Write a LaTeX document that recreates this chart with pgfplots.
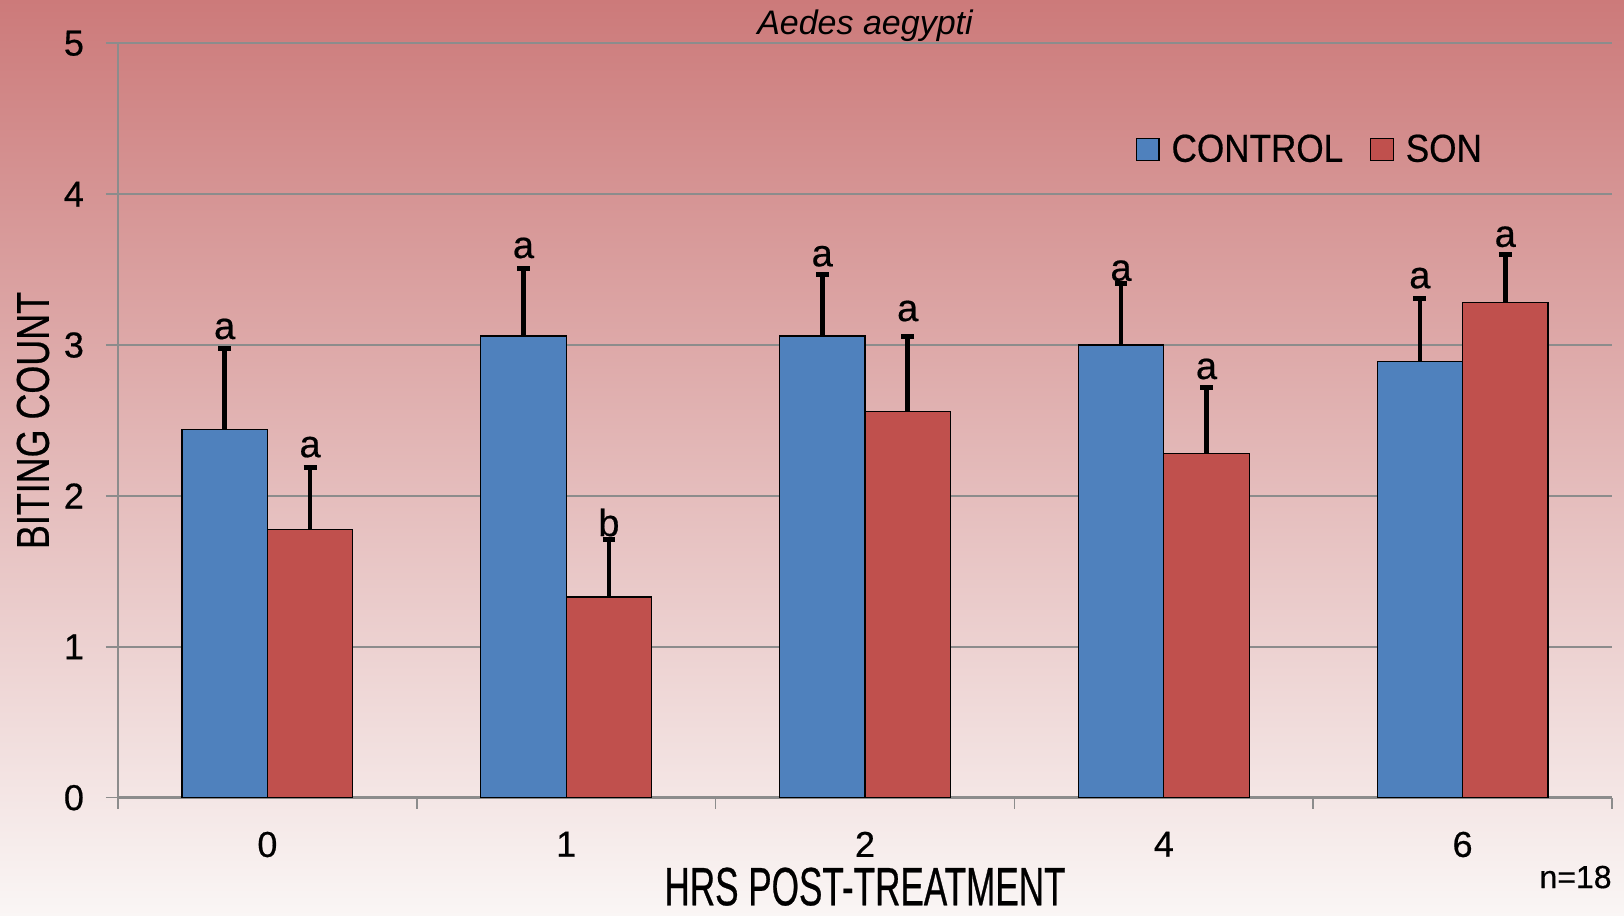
\documentclass[border=0pt]{standalone}
\usepackage{pgfplots}
\usepackage{pgfplotstable}
\pgfplotsset{compat=1.18}
\usepackage{fontspec}
\setmainfont{Liberation Sans}
\newfontfamily\medfont[FakeBold=0.5]{Liberation Sans}
\newfontfamily\xlabfont[FakeStretch=0.65,FakeBold=0.5]{Liberation Sans}
\newfontfamily\ylabfont[FakeStretch=0.78,FakeBold=0.5]{Liberation Sans}
\newfontfamily\legfont[FakeStretch=0.9,FakeBold=0.5]{Liberation Sans}
\definecolor{ctrl}{RGB}{79,129,189}
\definecolor{son}{RGB}{192,80,77}
\definecolor{bgtop}{RGB}{204,122,122}
\definecolor{bgbot}{RGB}{250,246,245}
\definecolor{gridc}{RGB}{140,140,140}

% x = category position (0..4 for 0,1,2,4,6 h) shifted to the bar centre
\pgfplotstableread{
x y e
-0.143 2.44 0.54
0.857 3.06 0.45
1.857 3.06 0.41
2.857 3.00 0.41
3.857 2.89 0.42
}\ctrldata
\pgfplotstableread{
x y e
0.143 1.78 0.41
1.143 1.33 0.38
2.143 2.56 0.50
3.143 2.28 0.44
4.143 3.28 0.32
}\sondata
\pgfplotstableread{
x y lab
-0.143 3.04 a
0.857 3.577 a
1.857 3.522 a
2.857 3.426 a
3.857 3.377 a
0.143 2.257 a
1.143 1.734 b
2.143 3.159 a
3.143 2.775 a
4.143 3.651 a
}\labdata

\begin{document}
\begin{tikzpicture}
\shade[top color=bgtop, bottom color=bgbot] (-59pt,-59.15pt) rectangle (753pt,398.85pt);
\begin{axis}[
  at={(0,0)}, anchor=south west,
  scale only axis, width=747pt, height=377.2pt,
  clip=false,
  xmin=-0.5, xmax=4.5, ymin=0, ymax=5,
  xtick={0,1,2,3,4}, xticklabels={0,1,2,4,6},
  minor xtick={-0.5,0.5,1.5,2.5,3.5,4.5},
  ytick={0,1,2,3,4,5},
  axis x line*=bottom, axis y line*=left,
  x axis line style={gridc, line width=1.3pt},
  y axis line style={gridc, line width=0.7pt},
  tick align=outside,
  major tick length=6pt,
  minor tick length=5.5pt,
  major x tick style={draw=none},
  minor x tick style={gridc, line width=0.8pt},
  major y tick style={gridc, line width=0.8pt},
  ymajorgrids, grid style={gridc, line width=0.9pt},
  tick label style={font=\medfont\fontsize{18}{20}\selectfont},
  /pgf/number format/assume math mode=true,
  xticklabel shift=7.5pt,
  yticklabel shift=7.5pt,
  xlabel={HRS POST-TREATMENT},
  xlabel style={font=\xlabfont\fontsize{27}{29}\selectfont, at={(axis description cs:0.5,-0.1246)}, anchor=center, yshift=2.5pt},
  ylabel={BITING COUNT},
  ylabel style={font=\ylabfont\fontsize{23}{25}\selectfont, at={(axis description cs:-0.0569,0.5)}, anchor=center},
  title={Aedes aegypti},
  title style={font=\fontsize{17}{19}\selectfont\itshape, at={(axis description cs:0.5,1)}, anchor=base, yshift=-1.7pt},
  legend columns=2,
  legend style={at={(0.6814,0.859)}, anchor=west, draw=none, fill=none, inner sep=0pt, outer sep=0pt,
    font=\legfont\fontsize{19.5}{22}\selectfont,
    nodes={inner sep=0pt},
    /tikz/every odd column/.append style={column sep=6pt},
    /tikz/every even column/.append style={column sep=13.5pt}},
  legend image code/.code={\draw[#1] (0pt,-5.6pt) rectangle (11.2pt,5.6pt);},
]
\addplot[ybar, bar width=0.286, bar shift=0, fill=ctrl, draw=black, line width=0.6pt,
  error bars/.cd, y dir=plus, y explicit, error mark=|,
  error bar style={line width=2.3pt, black},
  error mark options={line width=2.5pt, mark size=3.2pt, black}]
  table[x=x, y=y, y error=e] {\ctrldata};
\addlegendentry{CONTROL}
\addplot[ybar, bar width=0.286, bar shift=0, fill=son, draw=black, line width=0.6pt,
  error bars/.cd, y dir=plus, y explicit, error mark=|,
  error bar style={line width=2.3pt, black},
  error mark options={line width=2.5pt, mark size=3.2pt, black}]
  table[x=x, y=y, y error=e] {\sondata};
\addlegendentry{SON}
\addplot[only marks, mark=none, forget plot, nodes near coords, point meta=explicit symbolic,
  every node near coord/.append style={anchor=base, inner sep=0pt, yshift=0pt, font=\medfont\fontsize{19}{21}\selectfont, black}]
  table[x=x, y=y, meta=lab] {\labdata};
\node[anchor=base east, font=\medfont\fontsize{16}{18}\selectfont, inner sep=0pt] at (rel axis cs:1,0) [yshift=-45.2pt] {n=18};
\end{axis}
\pgfresetboundingbox
\path (-59pt,-59.15pt) rectangle (753pt,398.85pt);
\end{tikzpicture}
\end{document}
